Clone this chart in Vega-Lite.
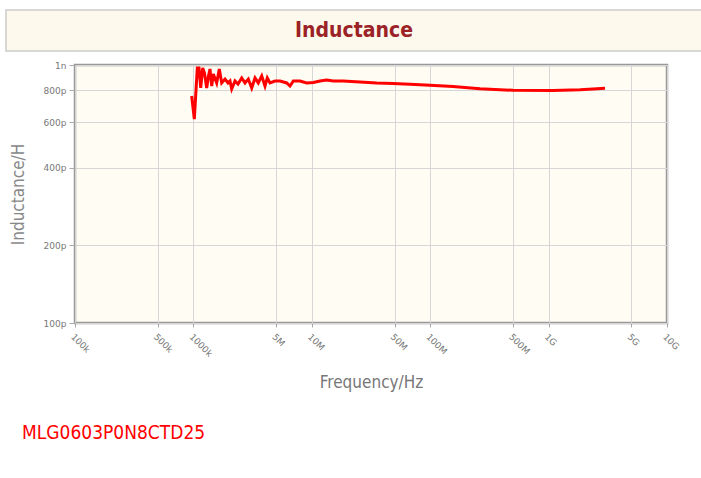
{
  "$schema": "https://vega.github.io/schema/vega-lite/v6.json",
  "background": "white",
  "padding": {"left": 5, "top": 9, "right": 0, "bottom": 0},
  "spacing": 7,
  "config": {"font": "DejaVu Sans", "view": {"stroke": null}},
  "vconcat": [
    {
      "width": 696,
      "height": 41,
      "data": {"values": [{"title": "Inductance"}]},
      "view": {"fill": "#fdf9ec", "stroke": "#cccccc", "strokeWidth": 1.5},
      "mark": {"type": "text", "font": "DejaVu Sans Condensed", "fontWeight": "bold", "fontSize": 21, "color": "#9b2226"},
      "encoding": {"text": {"field": "title", "type": "nominal"}}
    },
    {
      "spacing": 0,
      "hconcat": [
        {
          "width": 1,
          "height": 1,
          "data": {"values": []},
          "mark": "point"
        },
        {
          "width": 592,
          "height": 258,
          "view": {"fill": "#fffcf3", "stroke": "#999999", "strokeWidth": 2.5},
          "title": {"text": "MLG0603P0N8CTD25", "orient": "bottom", "anchor": "start", "frame": "group", "dx": -53, "offset": 34, "fontSize": 19, "fontWeight": "normal", "color": "#ff0000", "font": "DejaVu Sans Condensed"},
          "data": {"values": [
            {"f": 967000, "L": 7.58e-10},
            {"f": 1018000, "L": 6.17e-10},
            {"f": 1079000, "L": 9.74e-10},
            {"f": 1115000, "L": 9.74e-10},
            {"f": 1153000, "L": 8.15e-10},
            {"f": 1198000, "L": 9.74e-10},
            {"f": 1241000, "L": 9.31e-10},
            {"f": 1295000, "L": 8.15e-10},
            {"f": 1341000, "L": 9.07e-10},
            {"f": 1381000, "L": 9.65e-10},
            {"f": 1428000, "L": 8.29e-10},
            {"f": 1473000, "L": 9.23e-10},
            {"f": 1573000, "L": 8.52e-10},
            {"f": 1655000, "L": 9.65e-10},
            {"f": 1734000, "L": 8.52e-10},
            {"f": 1849000, "L": 8.82e-10},
            {"f": 1960000, "L": 8.52e-10},
            {"f": 2038000, "L": 8.67e-10},
            {"f": 2106000, "L": 8.07e-10},
            {"f": 2246000, "L": 8.67e-10},
            {"f": 2381000, "L": 8.44e-10},
            {"f": 2558000, "L": 8.91e-10},
            {"f": 2728000, "L": 8.52e-10},
            {"f": 2909000, "L": 8.82e-10},
            {"f": 3108000, "L": 8.15e-10},
            {"f": 3314000, "L": 8.91e-10},
            {"f": 3533000, "L": 8.52e-10},
            {"f": 3776000, "L": 9.07e-10},
            {"f": 4025000, "L": 8.29e-10},
            {"f": 4209000, "L": 8.91e-10},
            {"f": 4436000, "L": 8.52e-10},
            {"f": 4890000, "L": 8.67e-10},
            {"f": 5389000, "L": 8.67e-10},
            {"f": 6138000, "L": 8.52e-10},
            {"f": 6545000, "L": 8.29e-10},
            {"f": 6981000, "L": 8.67e-10},
            {"f": 7950000, "L": 8.67e-10},
            {"f": 9056000, "L": 8.52e-10},
            {"f": 10300000, "L": 8.55e-10},
            {"f": 11730000, "L": 8.67e-10},
            {"f": 13360000, "L": 8.74e-10},
            {"f": 15190000, "L": 8.67e-10},
            {"f": 18340000, "L": 8.67e-10},
            {"f": 25540000, "L": 8.59e-10},
            {"f": 35330000, "L": 8.52e-10},
            {"f": 48510000, "L": 8.48e-10},
            {"f": 67510000, "L": 8.42e-10},
            {"f": 99610000, "L": 8.34e-10},
            {"f": 155800000, "L": 8.25e-10},
            {"f": 263400000, "L": 8.09e-10},
            {"f": 500500000, "L": 7.98e-10},
            {"f": 1089000000, "L": 7.96e-10},
            {"f": 1842000000, "L": 8.01e-10},
            {"f": 2371000000, "L": 8.07e-10},
            {"f": 2995000000, "L": 8.12e-10}
          ]},
          "mark": {"type": "line", "color": "#ff0000", "strokeWidth": 3, "clip": true},
          "encoding": {
            "x": {
              "field": "f", "type": "quantitative",
              "scale": {"type": "log", "domain": [100000, 10000000000], "nice": false},
              "axis": {
                "title": "Frequency/Hz",
                "values": [100000, 500000, 1000000, 5000000, 10000000, 50000000, 100000000, 500000000, 1000000000, 5000000000, 10000000000],
                "labelExpr": "datum.value < 9.9e5 ? format(round(datum.value/1e3),'d')+'k' : datum.value < 1.1e6 ? '1000k' : datum.value < 9.9e8 ? format(round(datum.value/1e6),'d')+'M' : format(round(datum.value/1e9),'d')+'G'",
                "labelAngle": 45, "labelAlign": "left", "labelBaseline": "top",
                "labelFont": "DejaVu Sans", "labelFontSize": 9, "labelColor": "#777777", "labelPadding": 5,
                "tickColor": "#aaaaaa", "tickSize": 4, "domain": false,
                "gridColor": "#d6d6d6",
                "titleFont": "DejaVu Sans Condensed", "titleFontSize": 17, "titleFontWeight": "normal", "titleColor": "#777777", "titlePadding": 16
              }
            },
            "y": {
              "field": "L", "type": "quantitative",
              "scale": {"type": "log", "domain": [1e-10, 1e-9], "nice": false},
              "axis": {
                "title": "Inductance/H",
                "values": [1e-10, 2e-10, 4e-10, 6e-10, 8e-10, 1e-9],
                "labelExpr": "datum.value >= 9.9e-10 ? '1n' : format(round(datum.value*1e12),'d') + 'p'",
                "labelFont": "DejaVu Sans", "labelFontSize": 9, "labelColor": "#777777", "labelPadding": 3,
                "tickColor": "#aaaaaa", "tickSize": 6, "domain": false,
                "gridColor": "#d6d6d6",
                "titleFont": "DejaVu Sans Condensed", "titleFontSize": 17, "titleFontWeight": "normal", "titleColor": "#888888", "titlePadding": 16
              }
            }
          }
        }
      ]
    }
  ]
}
